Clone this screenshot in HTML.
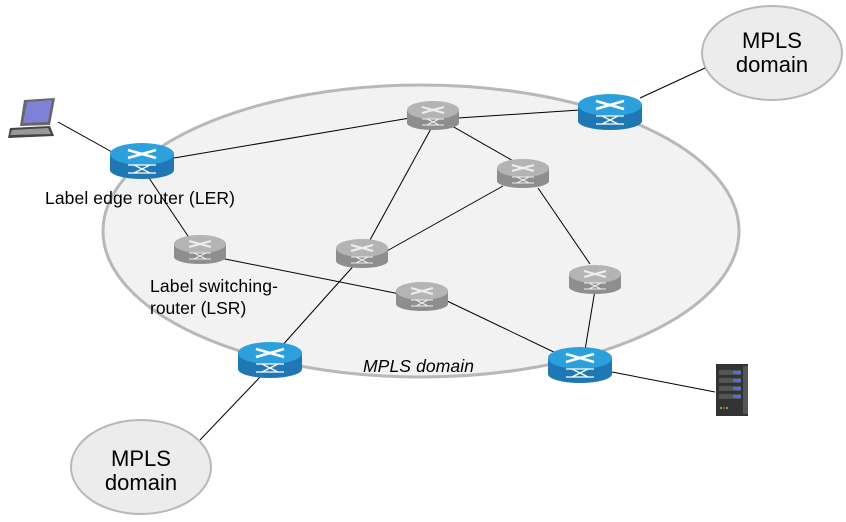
<!DOCTYPE html>
<html><head><meta charset="utf-8"><style>
html,body{margin:0;padding:0;background:#fff;}
svg{display:block;}
text{font-family:"Liberation Sans",Arial,sans-serif;fill:#000;}
</style></head><body>
<svg width="846" height="522" viewBox="0 0 846 522" xmlns="http://www.w3.org/2000/svg">
<defs>
<g id="blue">
  <path d="M-32,-6 L-32,10 A32,9 0 0 0 32,10 L32,-6 Z" fill="#1f78b4"/>
  <ellipse cx="0" cy="-6" rx="32" ry="11" fill="#2ca0dc"/>
  <path d="M-14,-10 L14,-2 M14,-10 L-14,-2" stroke="#fff" stroke-width="2.5"/>
  <path d="M-14,5 L14,5 M-14,13 L14,13 M-8,5 L8,13 M8,5 L-8,13" stroke="#fff" stroke-width="1.3"/>
</g>
<g id="gray">
  <path d="M-26,-5 L-26,8 A26,7 0 0 0 26,8 L26,-5 Z" fill="#8e8e8e"/>
  <ellipse cx="0" cy="-5" rx="26" ry="9" fill="#b4b4b4"/>
  <path d="M-11,-8 L11,-2 M11,-8 L-11,-2" stroke="#eee" stroke-width="2"/>
  <path d="M-11,4 L11,4 M-11,10 L11,10 M-6,4 L6,10 M6,4 L-6,10" stroke="#eee" stroke-width="1"/>
</g>
</defs>
<ellipse cx="421" cy="231" rx="318" ry="146" fill="#f2f2f2" stroke="#b8b8b8" stroke-width="3"/>
<ellipse cx="772" cy="53" rx="70" ry="47" fill="#ececec" stroke="#b8b8b8" stroke-width="2"/>
<ellipse cx="141" cy="467" rx="70" ry="47" fill="#ececec" stroke="#b8b8b8" stroke-width="2"/>
<g stroke="#000" stroke-width="1" fill="none">
<line x1="58" y1="122" x2="112" y2="152"/>
<line x1="174" y1="158" x2="410" y2="118"/>
<line x1="458" y1="118" x2="580" y2="110"/>
<line x1="640" y1="98" x2="705" y2="68"/>
<line x1="445" y1="122" x2="515" y2="162"/>
<line x1="433" y1="125" x2="370" y2="240"/>
<line x1="503" y1="186" x2="385" y2="252"/>
<line x1="538" y1="188" x2="590" y2="264"/>
<line x1="595" y1="290" x2="585" y2="350"/>
<line x1="147" y1="175" x2="192" y2="242"/>
<line x1="215" y1="257" x2="400" y2="294"/>
<line x1="445" y1="300" x2="560" y2="355"/>
<line x1="357" y1="262" x2="280" y2="348"/>
<line x1="200" y1="440" x2="262" y2="375"/>
<line x1="612" y1="372" x2="715" y2="392"/>
</g>
<use href="#blue" x="142" y="160"/>
<use href="#blue" x="610" y="111"/>
<use href="#blue" x="270" y="359"/>
<use href="#blue" x="580" y="364"/>
<use href="#gray" x="433" y="115"/>
<use href="#gray" x="523" y="173"/>
<use href="#gray" x="200" y="249"/>
<use href="#gray" x="362" y="253"/>
<use href="#gray" x="422" y="296"/>
<use href="#gray" x="595" y="279"/>
<!-- laptop -->
<g>
<polygon points="24,100 55,98 50,125 20,126" fill="#666"/>
<polygon points="27,102 52,100 48,122 23,123" fill="#8080d8"/>
<polygon points="10,128 50,126 54,136 8,138" fill="#444"/>
<polygon points="12,130 48,128 51,134 10,135" fill="#999"/>
</g>
<!-- server -->
<g>
<rect x="716" y="364" width="32" height="52" fill="#333"/>
<rect x="743" y="366" width="5" height="48" fill="#555"/>
<rect x="719" y="370" width="22" height="5" fill="#555"/><rect x="733" y="371" width="8" height="3" fill="#4a6cf0"/>
<rect x="719" y="378" width="22" height="5" fill="#555"/><rect x="733" y="379" width="8" height="3" fill="#4a6cf0"/>
<rect x="719" y="386" width="22" height="5" fill="#555"/><rect x="733" y="387" width="8" height="3" fill="#4a6cf0"/>
<rect x="719" y="394" width="22" height="5" fill="#555"/><rect x="733" y="395" width="8" height="3" fill="#4a6cf0"/>
<rect x="720" y="407" width="2" height="2" fill="#3c3"/><rect x="723" y="407" width="2" height="2" fill="#e22"/><rect x="726" y="407" width="2" height="2" fill="#3c3"/>
</g>
<text x="45" y="204" font-size="17.5" textLength="190">Label edge router (LER)</text>
<text x="150" y="292" font-size="17.5" textLength="128">Label switching-</text>
<text x="150" y="314" font-size="17.5">router (LSR)</text>
<text x="363" y="372" font-size="17.5" font-style="italic" textLength="111">MPLS domain</text>
<text x="772" y="48" font-size="22" text-anchor="middle">MPLS</text>
<text x="772" y="72" font-size="22" text-anchor="middle">domain</text>
<text x="141" y="466" font-size="22" text-anchor="middle">MPLS</text>
<text x="141" y="490" font-size="22" text-anchor="middle">domain</text>
</svg>
</body></html>
